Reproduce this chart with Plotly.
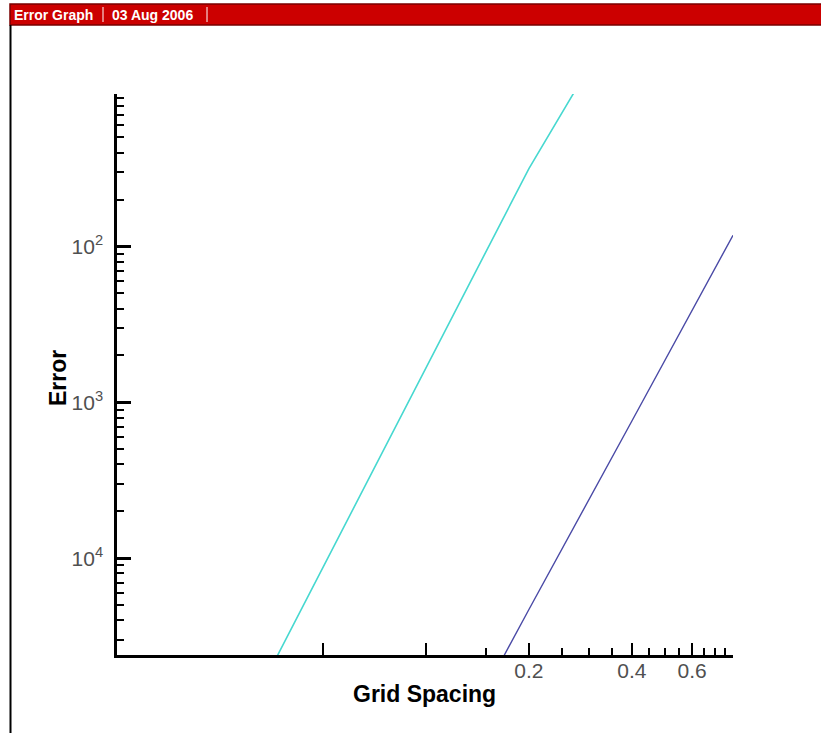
import math
import plotly.graph_objects as go

# ---- data ----
grid_spacing_a = [0.025, 0.05, 0.1, 0.2, 0.4]
error_a = [4.6e-6, 8.7e-5, 1.66e-3, 3.16e-2, 4.1e-1]

grid_spacing_b = [0.1, 0.2, 0.4, 0.79]
error_b = [2.8e-6, 4.7e-5, 7.6e-4, 1.18e-2]

x_major_vals = [0.05, 0.1, 0.2, 0.4, 0.6]
x_major_text = ["", "", "0.2", "0.4", "0.6"]
x_minor_vals = [0.15, 0.25, 0.3, 0.35, 0.45, 0.5, 0.55, 0.65, 0.7, 0.75]

y_major_vals = [1e-4, 1e-3, 1e-2]
y_major_text = ["10<sup>4</sup>", "10<sup>3</sup>", "10<sup>2</sup>"]
y_minor_vals = ([k * 1e-5 for k in range(3, 10)] + [k * 1e-4 for k in range(2, 10)]
                + [k * 1e-3 for k in range(2, 10)] + [k * 1e-2 for k in range(2, 10)])

x_range = [0.0125, 0.79]
y_range = [2.4e-5, 0.095]

header_title = "Error Graph"
header_date = "03 Aug 2006"
x_title = "Grid Spacing"
y_title = "Error"

# ---- layout geometry (pixels) ----
W, H = 821, 733
L, R, T, B = 117, 88, 94, 78
pw, ph = W - L - R, H - T - B


def px(xp):
    return (xp - L) / pw


def py(yp):
    return (H - B - yp) / ph


fig = go.Figure()
fig.add_trace(go.Scatter(x=grid_spacing_a, y=error_a, mode="lines",
                         line=dict(color="#47d8d0", width=1.6), showlegend=False,
                         hoverinfo="skip"))
fig.add_trace(go.Scatter(x=grid_spacing_b, y=error_b, mode="lines",
                         line=dict(color="#4a4aa6", width=1.4), showlegend=False,
                         hoverinfo="skip"))

tick_font = dict(family="Liberation Sans, Arial, sans-serif", size=21, color="#505050")

fig.update_xaxes(
    type="log", range=[math.log10(v) for v in x_range],
    showline=True, linecolor="black", linewidth=2.5, mirror=False,
    showgrid=False, zeroline=False,
    tickmode="array", tickvals=x_major_vals, ticktext=x_major_text,
    ticks="inside", ticklen=12, tickwidth=2, tickcolor="black",
    tickfont=tick_font, ticklabelstandoff=-5,
    minor=dict(tickmode="array", tickvals=x_minor_vals, ticks="inside",
               ticklen=7, tickwidth=1.5, tickcolor="black", showgrid=False),
)
fig.update_yaxes(
    type="log", range=[math.log10(v) for v in y_range],
    showline=True, linecolor="black", linewidth=2.5, mirror=False,
    showgrid=False, zeroline=False,
    tickmode="array", tickvals=y_major_vals, ticktext=y_major_text,
    ticks="inside", ticklen=14, tickwidth=2.5, tickcolor="black",
    tickfont=tick_font, ticklabelstandoff=7,
    minor=dict(tickmode="array", tickvals=y_minor_vals, ticks="inside",
               ticklen=7, tickwidth=1.5, tickcolor="black", showgrid=False),
)

shapes = [
    # red header bar
    dict(type="rect", xref="paper", yref="paper",
         x0=px(10), x1=px(822), y0=py(25), y1=py(4),
         fillcolor="#cc0000", line=dict(color="#7a0000", width=1.5), layer="above"),
    # separators in header
    dict(type="line", xref="paper", yref="paper",
         x0=px(103), x1=px(103), y0=py(22), y1=py(7),
         line=dict(color="white", width=1)),
    dict(type="line", xref="paper", yref="paper",
         x0=px(207), x1=px(207), y0=py(22), y1=py(7),
         line=dict(color="white", width=1)),
    # left frame border
    dict(type="line", xref="paper", yref="paper",
         x0=px(10.5), x1=px(10.5), y0=py(25), y1=py(733),
         line=dict(color="black", width=2)),
]

annotations = [
    dict(text=header_title, xref="paper", yref="paper", x=px(12), y=py(14.5),
         xanchor="left", yanchor="middle", showarrow=False,
         font=dict(family="Liberation Sans, Arial, sans-serif", size=14, color="white", weight="bold")),
    dict(text=header_date, xref="paper", yref="paper", x=px(110), y=py(14.5),
         xanchor="left", yanchor="middle", showarrow=False,
         font=dict(family="Liberation Sans, Arial, sans-serif", size=14, color="white", weight="bold")),
    dict(text=x_title, xref="paper", yref="paper", x=px(424), y=py(694),
         xanchor="center", yanchor="middle", showarrow=False,
         font=dict(family="Liberation Sans, Arial, sans-serif", size=23, color="black", weight="bold")),
    dict(text=y_title, xref="paper", yref="paper", x=px(58), y=py(378),
         xanchor="center", yanchor="middle", showarrow=False, textangle=-90,
         font=dict(family="Liberation Sans, Arial, sans-serif", size=23, color="black", weight="bold")),
]

fig.update_layout(
    width=W, height=H,
    margin=dict(l=L, r=R, t=T, b=B, pad=0),
    paper_bgcolor="white", plot_bgcolor="white",
    shapes=shapes, annotations=annotations,
    showlegend=False,
)

fig.write_html("out.html",
               config={"displayModeBar": False},
               post_script="document.body.style.margin='0';document.body.style.overflow='hidden';")
